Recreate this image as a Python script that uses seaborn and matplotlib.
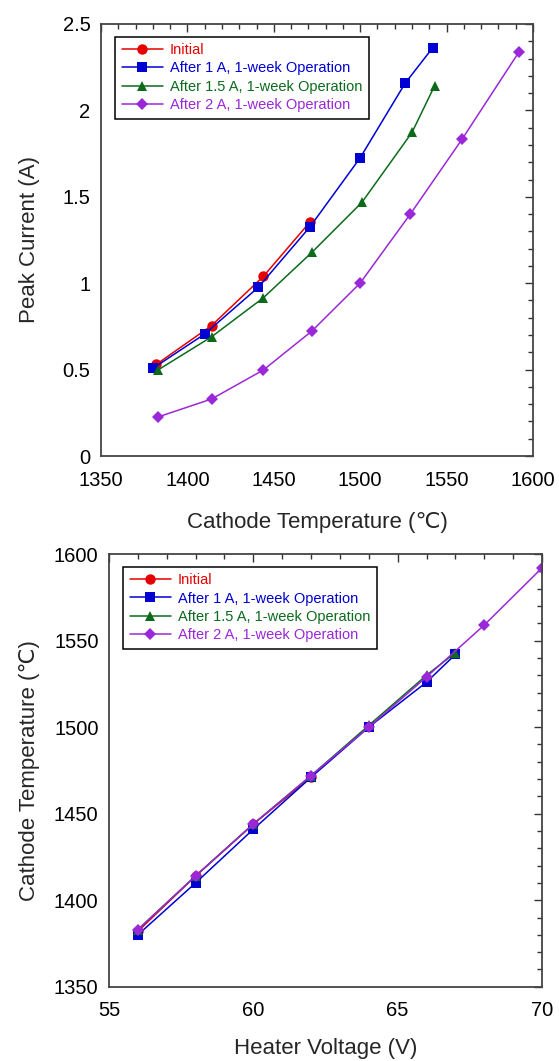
import matplotlib
matplotlib.use('Agg')
import matplotlib.pyplot as plt
import pandas as pd
import seaborn as sns
from matplotlib.ticker import MultipleLocator

sns.set_theme(style='white')
plt.rcParams['font.family'] = ['Liberation Sans', 'DejaVu Sans']

# series names
labels = ['Initial', 'After 1 A, 1-week Operation',
          'After 1.5 A, 1-week Operation', 'After 2 A, 1-week Operation']

# heater voltage (V) for each series
volt_init = [56, 58, 60, 62]
volt_1a = [56, 58, 60, 62, 64, 66, 67]
volt_15a = [56, 58, 60, 62, 64, 66, 67]
volt_2a = [56, 58, 60, 62, 64, 66, 68, 70]

# cathode temperature (degC)
temp_init = [1382, 1414, 1444, 1471]
temp_1a = [1380, 1410, 1441, 1471, 1500, 1526, 1542]
temp_15a = [1383, 1414, 1444, 1472, 1501, 1530, 1543]
temp_2a = [1383, 1414, 1444, 1472, 1500, 1529, 1559, 1592]

# peak current (A)
cur_init = [0.53, 0.755, 1.04, 1.355]
cur_1a = [0.507, 0.706, 0.976, 1.327, 1.726, 2.157, 2.363]
cur_15a = [0.498, 0.69, 0.916, 1.178, 1.468, 1.873, 2.141]
cur_2a = [0.226, 0.33, 0.498, 0.723, 1.001, 1.40, 1.834, 2.34]

colors = ['#e60000', '#0000d2', '#0b6b1b', '#9b28d8']
markers = ['o', 's', '^', 'D']
msizes = [7.5, 7.5, 6.5, 6]

volts = [volt_init, volt_1a, volt_15a, volt_2a]
temps = [temp_init, temp_1a, temp_15a, temp_2a]
currents = [cur_init, cur_1a, cur_15a, cur_2a]

fig = plt.figure(figsize=(5.59, 10.61), dpi=100)
ax1 = fig.add_axes([0.1807, 0.5702, 0.7728, 0.4072])
ax2 = fig.add_axes([0.195, 0.0700, 0.7746, 0.4078])

for i in range(4):
    df = pd.DataFrame({'temp': temps[i], 'cur': currents[i], 'volt': volts[i]})
    sns.lineplot(data=df, x='temp', y='cur', ax=ax1, color=colors[i],
                 marker=markers[i], markersize=msizes[i], markeredgewidth=0,
                 linewidth=1.1, label=labels[i])
    sns.lineplot(data=df, x='volt', y='temp', ax=ax2, color=colors[i],
                 marker=markers[i], markersize=msizes[i], markeredgewidth=0,
                 linewidth=1.1, label=labels[i])


def style_axes(ax, xlim, ylim, xmaj, xmin, ymaj, ymin):
    ax.set_xlim(xlim)
    ax.set_ylim(ylim)
    ax.xaxis.set_major_locator(MultipleLocator(xmaj))
    ax.xaxis.set_minor_locator(MultipleLocator(xmin))
    ax.yaxis.set_major_locator(MultipleLocator(ymaj))
    ax.yaxis.set_minor_locator(MultipleLocator(ymin))
    ax.tick_params(which='both', direction='in', top=True, right=True,
                   colors='#333333', labelcolor='black', labelsize=14.5)
    ax.tick_params(which='major', length=6, width=1)
    ax.tick_params(which='minor', length=3.5, width=1)
    ax.tick_params(axis='x', which='major', pad=10.5)
    ax.tick_params(axis='y', which='major', pad=7.5)
    for s in ax.spines.values():
        s.set_color('#444444')
        s.set_linewidth(1.3)
    leg = ax.legend(loc='upper left', bbox_to_anchor=(0.033, 0.971),
                    borderaxespad=0, fontsize=10.5, fancybox=False,
                    framealpha=1, edgecolor='black', handlelength=2.8,
                    labelspacing=0.3, handletextpad=0.5, borderpad=0.45)
    leg.get_frame().set_linewidth(1.1)
    for txt, c in zip(leg.get_texts(), colors):
        txt.set_color(c)


style_axes(ax1, (1350, 1600), (0, 2.5), 50, 10, 0.5, 0.1)
ax1.set_yticks([0, 0.5, 1, 1.5, 2, 2.5])
ax1.set_yticklabels(['0', '0.5', '1', '1.5', '2', '2.5'])
ax1.set_xlabel('Cathode Temperature (℃)', fontsize=16, labelpad=16)
ax1.set_ylabel('Peak Current (A)', fontsize=16, labelpad=16)

style_axes(ax2, (55, 70), (1350, 1600), 5, 1, 50, 10)
ax2.set_xlabel('Heater Voltage (V)', fontsize=16, labelpad=13)
ax2.set_ylabel('Cathode Temperature (℃)', fontsize=16, labelpad=10)

fig.savefig('out.png', dpi=100)
